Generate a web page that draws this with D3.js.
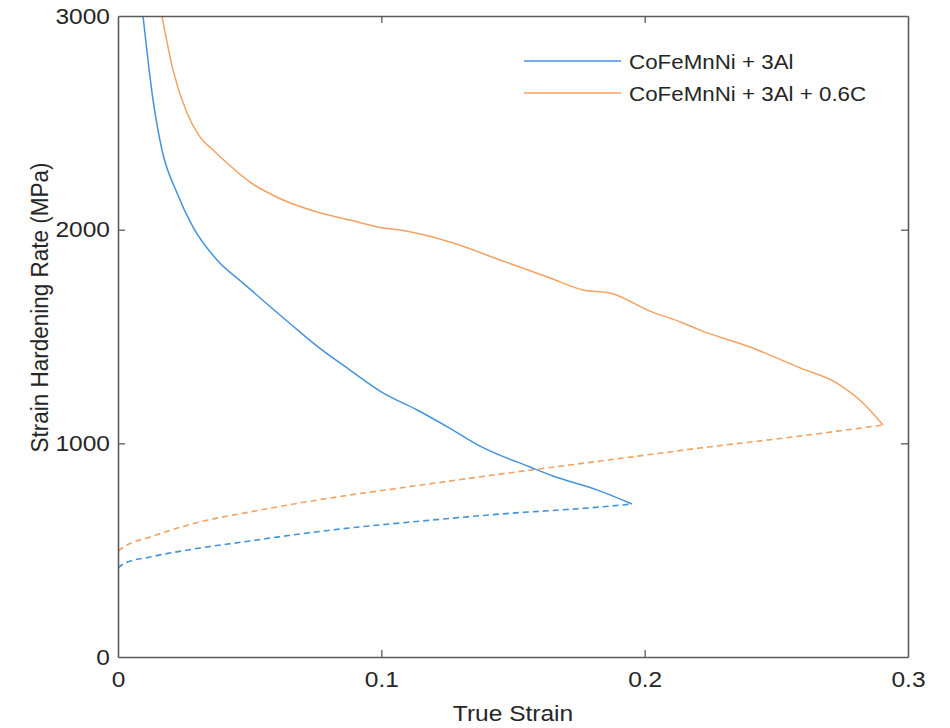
<!DOCTYPE html>
<html>
<head>
<meta charset="utf-8">
<script src="https://cdn.jsdelivr.net/npm/d3@7"></script>
<style>
  html, body { margin: 0; padding: 0; background: #fff; }
  svg { display: block; font-family: "Liberation Sans", Arial, Helvetica, sans-serif; }
</style>
</head>
<body>
<svg id="chart" width="950" height="728"></svg>
<script>
// ---- data ----
const seriesNames = ["CoFeMnNi + 3Al", "CoFeMnNi + 3Al + 0.6C"];
const xTicks = [0, 0.1, 0.2, 0.3];
const yTicks = [0, 1000, 2000, 3000];

// solid: strain hardening rate curves
const alSolidStrain = [0.0095, 0.0133, 0.0167, 0.0224, 0.0285, 0.0376, 0.0475, 0.0566, 0.0665, 0.0756, 0.0881, 0.1006, 0.1136, 0.1261, 0.1375, 0.1565, 0.1652, 0.1819, 0.1952];
const alSolidRate   = [3000, 2607, 2373, 2172, 2012, 1858, 1750, 1652, 1548, 1455, 1343, 1236, 1156, 1070, 987, 889, 847, 782, 716];

const alcSolidStrain = [0.0167, 0.0209, 0.0262, 0.0311, 0.0361, 0.0414, 0.0501, 0.0627, 0.0756, 0.0881, 0.1006, 0.1071, 0.1261, 0.1451, 0.1641, 0.1766, 0.1868, 0.2020, 0.2146, 0.2210, 0.2400, 0.2590, 0.2730, 0.2829, 0.2905];
const alcSolidRate   = [3000, 2747, 2546, 2434, 2373, 2312, 2223, 2139, 2083, 2045, 2008, 1998, 1942, 1858, 1774, 1718, 1704, 1619, 1563, 1530, 1451, 1353, 1282, 1189, 1086];

// dashed: true stress curves
const alDashStrain = [0, 0.0027, 0.0122, 0.0311, 0.0501, 0.0691, 0.0881, 0.1071, 0.1451, 0.1830, 0.1952];
const alDashStress = [417, 440, 468, 510, 543, 576, 604, 627, 669, 702, 716];

const alcDashStrain = [0, 0.0027, 0.0122, 0.0311, 0.0501, 0.0691, 0.0881, 0.1071, 0.1451, 0.1830, 0.2210, 0.2590, 0.2905];
const alcDashStress = [496, 519, 562, 632, 679, 721, 758, 791, 856, 917, 978, 1034, 1086];

// ---- layout ----
const svg = d3.select("#chart");
const pL = 118, pR = 908, pT = 16, pB = 657;
const blue = "#4592DA", orange = "#F2A263";
const axisColor = "#5a5a5a", textColor = "#262626";
const fontSize = 22.5, legendSize = 20.5, stretch = 1.09;

const x = d3.scaleLinear().domain([0, 0.3]).range([pL, pR]);
const y = d3.scaleLinear().domain([0, 3000]).range([pB, pT]);

svg.append("defs").append("clipPath").attr("id", "clip")
  .append("rect").attr("x", pL).attr("y", pT).attr("width", pR - pL).attr("height", pB - pT);

const zip = (a, b) => a.map((v, i) => [v, b[i]]);
const smooth = d3.line().x(d => x(d[0])).y(d => y(d[1])).curve(d3.curveMonotoneX);

const g = svg.append("g").attr("clip-path", "url(#clip)");
g.append("path").datum(zip(alDashStrain, alDashStress)).attr("d", smooth)
  .attr("fill", "none").attr("stroke", blue).attr("stroke-width", 1.6).attr("stroke-dasharray", "6,4");
g.append("path").datum(zip(alcDashStrain, alcDashStress)).attr("d", smooth)
  .attr("fill", "none").attr("stroke", orange).attr("stroke-width", 1.6).attr("stroke-dasharray", "6,4");
g.append("path").datum(zip(alSolidStrain, alSolidRate)).attr("d", smooth)
  .attr("fill", "none").attr("stroke", blue).attr("stroke-width", 1.5);
g.append("path").datum(zip(alcSolidStrain, alcSolidRate)).attr("d", smooth)
  .attr("fill", "none").attr("stroke", orange).attr("stroke-width", 1.5);

// ---- axes (box with inward ticks on all sides) ----
const tickLen = 7;
const xb = svg.append("g").attr("transform", `translate(0,${pB})`)
  .call(d3.axisBottom(x).tickValues(xTicks).tickSizeInner(-tickLen).tickSizeOuter(0).tickPadding(14).tickFormat(d3.format("")));
const xt = svg.append("g").attr("transform", `translate(0,${pT})`)
  .call(d3.axisTop(x).tickValues(xTicks).tickSizeInner(-tickLen).tickSizeOuter(0).tickFormat(""));
const yl = svg.append("g").attr("transform", `translate(${pL},0)`)
  .call(d3.axisLeft(y).tickValues(yTicks).tickSizeInner(-tickLen).tickSizeOuter(0).tickPadding(8).tickFormat(d3.format("d")));
const yr = svg.append("g").attr("transform", `translate(${pR},0)`)
  .call(d3.axisRight(y).tickValues(yTicks).tickSizeInner(-tickLen).tickSizeOuter(0).tickFormat(""));

[xb, xt, yl, yr].forEach(a => {
  a.select(".domain").attr("stroke", axisColor).attr("stroke-width", 1.6);
  a.selectAll(".tick line").attr("stroke", axisColor).attr("stroke-width", 1.3);
  a.selectAll(".tick text").attr("fill", textColor).attr("font-size", fontSize)
    .attr("font-family", "'Liberation Sans', Arial, sans-serif")
    .attr("transform", `scale(${stretch},1)`);
});
yl.selectAll(".tick text").attr("x", -8 / stretch);
// remove ticks at the corners that coincide with the box
xb.selectAll(".tick").filter(d => d === 0 || d === 0.3).select("line").remove();
xt.selectAll(".tick").filter(d => d === 0 || d === 0.3).select("line").remove();
yl.selectAll(".tick").filter(d => d === 0 || d === 3000).select("line").remove();
yr.selectAll(".tick").filter(d => d === 0 || d === 3000).select("line").remove();

// ---- axis labels ----
svg.append("text").attr("transform", `translate(${(pL + pR) / 2},721) scale(${stretch},1)`)
  .attr("text-anchor", "middle").attr("fill", textColor).attr("font-size", fontSize)
  .text("True Strain");
svg.append("text").attr("transform", `translate(48,${(pT + pB) / 2 - 29}) rotate(-90) scale(1,${stretch})`)
  .attr("text-anchor", "middle").attr("fill", textColor).attr("font-size", fontSize)
  .text("Strain Hardening Rate (MPa)");

// ---- legend ----
const legend = svg.append("g");
[blue, orange].forEach((c, i) => {
  const ly = 61 + i * 32;
  legend.append("line").attr("x1", 524).attr("x2", 621).attr("y1", ly).attr("y2", ly)
    .attr("stroke", c).attr("stroke-width", 1.5);
  legend.append("text").attr("transform", `translate(629,${ly + 8}) scale(${stretch},1)`)
    .attr("fill", textColor).attr("font-size", legendSize).text(seriesNames[i]);
});
</script>
</body>
</html>
